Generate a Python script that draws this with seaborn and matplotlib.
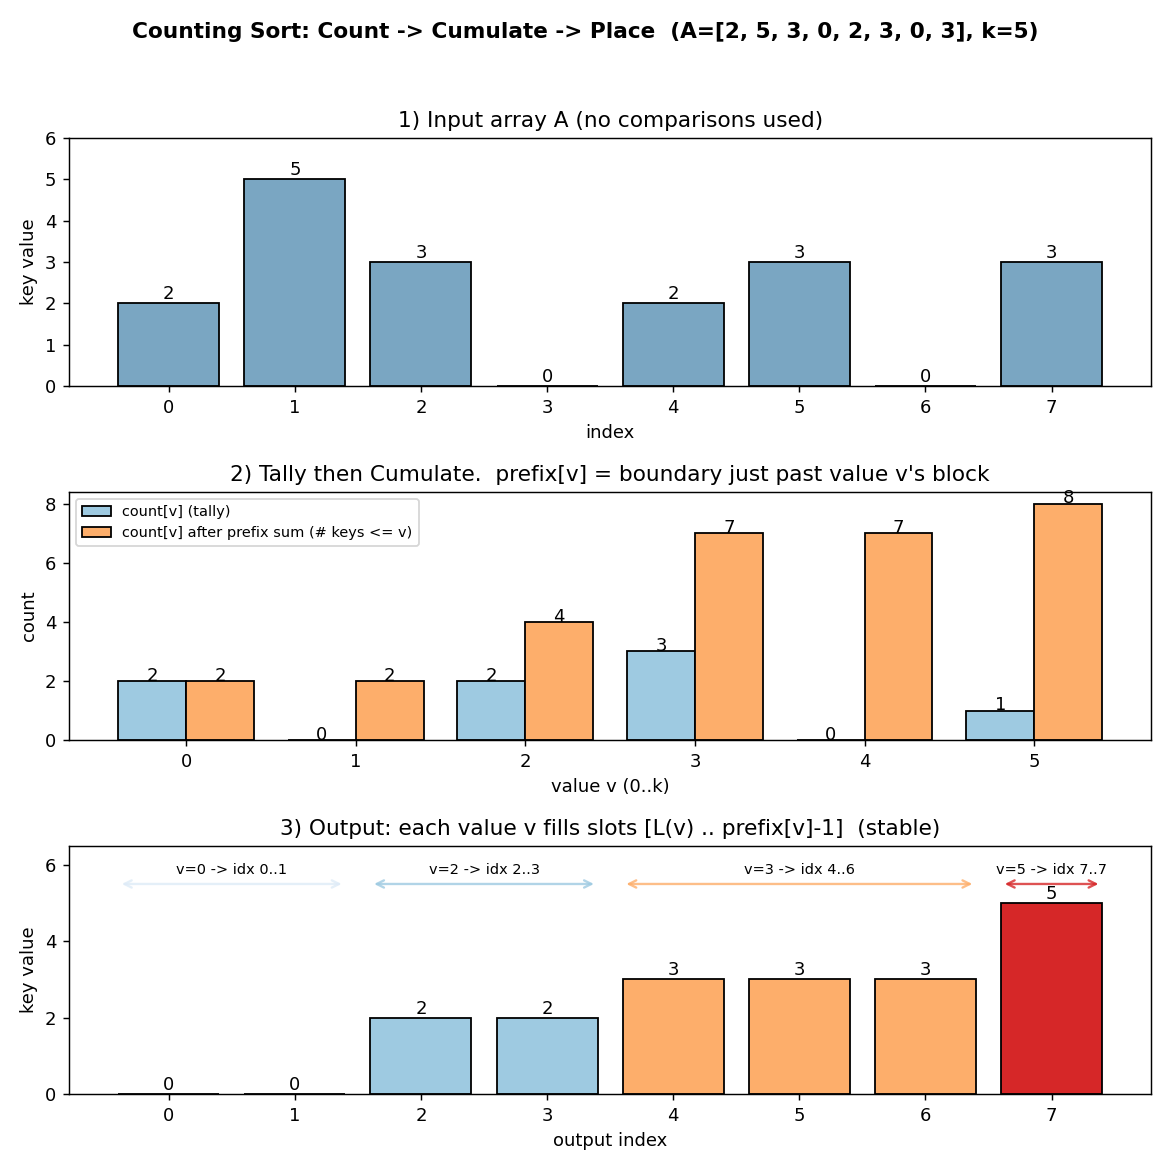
import matplotlib
matplotlib.use("Agg")
import matplotlib.pyplot as plt
from matplotlib.patches import Patch
import numpy as np
import pandas as pd
import seaborn as sns

# data
A = [2, 5, 3, 0, 2, 3, 0, 3]
k = 5
values = [0, 1, 2, 3, 4, 5]
tally = [2, 0, 2, 3, 0, 1]
prefix = [2, 2, 4, 7, 7, 8]
output = [0, 0, 2, 2, 3, 3, 3, 5]
block_vals = [0, 2, 3, 5]
block_lo = [0, 2, 4, 7]
block_hi = [1, 3, 6, 7]

# colours
input_color = "#7aa6c2"
tally_color = "#9ecae1"
prefix_color = "#fdae6b"
value_colors = {0: "#deebf7", 1: "#c6dbef", 2: "#9ecae1", 3: "#fdae6b", 4: "#fd8d3c", 5: "#d62728"}

fig, axes = plt.subplots(3, 1, figsize=(9, 9), dpi=130)
fig.subplots_adjust(left=0.059, right=0.984, top=0.882, bottom=0.065, hspace=0.426)
fig.suptitle("Counting Sort: Count -> Cumulate -> Place  (A=[2, 5, 3, 0, 2, 3, 0, 3], k=5)",
             fontsize=12, fontweight="bold", y=0.981)

# --1. input array
ax = axes[0]
df1 = pd.DataFrame({"index": range(len(A)), "key": A})
sns.barplot(data=df1, x="index", y="key", color=input_color, edgecolor="black",
            linewidth=1.0, width=0.8, saturation=1, ax=ax)
for c in ax.containers:
    ax.bar_label(c, labels=[str(v) for v in A], fontsize=10)
ax.set_xlim(-0.79, len(A) - 1 + 0.79)
ax.set_ylim(0, max(A) + 1)
ax.set_title("1) Input array A (no comparisons used)", fontsize=12)
ax.set_xlabel("index")
ax.set_ylabel("key value")

# --2. tally and prefix
ax = axes[1]
df2 = pd.DataFrame({
    "v": values * 2,
    "count": tally + prefix,
    "kind": ["count[v] (tally)"] * len(values) + ["count[v] after prefix sum (# keys <= v)"] * len(values),
})
sns.barplot(data=df2, x="v", y="count", hue="kind", palette=[tally_color, prefix_color],
            edgecolor="black", linewidth=1.0, width=0.8, saturation=1, ax=ax, legend=False)
for c, vals in zip(ax.containers, [tally, prefix]):
    ax.bar_label(c, labels=[str(v) for v in vals], fontsize=10, padding=-2)
ax.set_xlim(-0.69, len(values) - 1 + 0.69)
ax.set_ylim(0, max(prefix) * 1.05)
ax.set_yticks([0, 2, 4, 6, 8])
handles = [Patch(facecolor=tally_color, edgecolor="black", label="count[v] (tally)"),
           Patch(facecolor=prefix_color, edgecolor="black", label="count[v] after prefix sum (# keys <= v)")]
ax.legend(handles=handles, loc="upper left", fontsize=8)
ax.set_title("2) Tally then Cumulate.  prefix[v] = boundary just past value v's block", fontsize=12)
ax.set_xlabel("value v (0..k)")
ax.set_ylabel("count")

# --3. output
ax = axes[2]
df3 = pd.DataFrame({"pos": range(len(output)), "key": output})
sns.barplot(data=df3, x="pos", y="key", hue="pos", palette=[value_colors[v] for v in output],
            edgecolor="black", linewidth=1.0, width=0.8, saturation=1, legend=False, ax=ax)
for c in ax.containers:
    ax.bar_label(c, fontsize=10)
for v, lo, hi in zip(block_vals, block_lo, block_hi):
    ax.annotate("", xy=(lo - 0.4, 5.5), xytext=(hi + 0.4, 5.5),
                arrowprops=dict(arrowstyle="<->", color=value_colors[v], lw=1.3, alpha=0.8))
    ax.text((lo + hi) / 2, 5.68, "v=%d -> idx %d..%d" % (v, lo, hi), ha="center", va="bottom", fontsize=8)
ax.set_xlim(-0.79, len(output) - 1 + 0.79)
ax.set_ylim(0, max(output) + 1.5)
ax.set_yticks([0, 2, 4, 6])
ax.set_title("3) Output: each value v fills slots [L(v) .. prefix[v]-1]  (stable)", fontsize=12)
ax.set_xlabel("output index")
ax.set_ylabel("key value")

fig.savefig("out.png", dpi=130)
